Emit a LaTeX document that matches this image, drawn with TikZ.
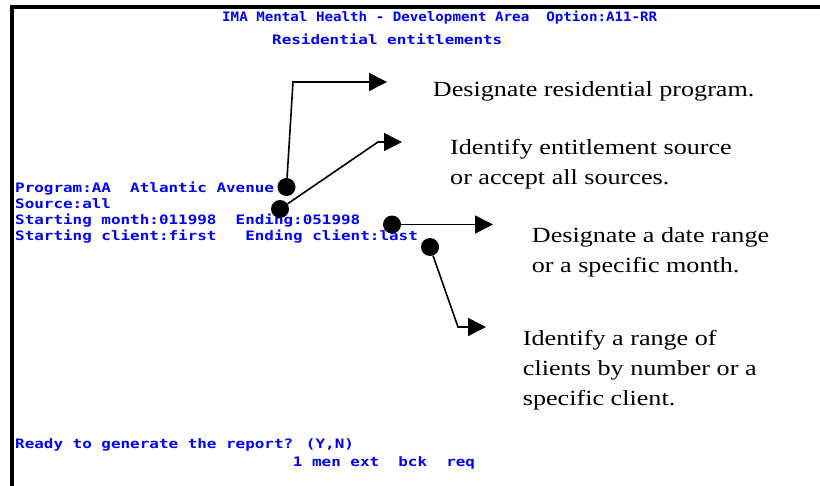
\documentclass[tikz,border=0pt]{standalone}
\usepackage{fontspec}
\usetikzlibrary{arrows.meta}
\newfontfamily\notefont[FakeStretch=1.21]{Liberation Serif}
\newfontfamily\termfont[FakeStretch=1.225]{DejaVu Sans Mono}
\newfontfamily\titlefont[FakeStretch=1.09]{DejaVu Sans Mono}
\begin{document}
\begin{tikzpicture}[x=1bp,y=-1bp,
  term/.style={anchor=base west, inner sep=0, text=blue, font=\termfont\bfseries\fontsize{13bp}{15bp}\selectfont},
  ttl/.style={anchor=base west, inner sep=0, text=blue, font=\titlefont\bfseries\fontsize{13bp}{15bp}\selectfont},
  note/.style={anchor=base west, inner sep=0, align=left, font=\notefont\fontsize{21.6bp}{30bp}\selectfont},
  dot/.style={circle, fill=black, inner sep=0, minimum size=18bp},
  conn/.style={line width=1.6bp, -{Triangle[length=18bp,width=18bp]}},
  frame/.style={line width=4bp}]
\useasboundingbox (0,0) rectangle (820,486);
% frame
\draw[frame] (10,7) -- (820,7);
\draw[frame] (12,5) -- (12,486);
% screen text
\node[ttl] (title) at (222,21.5) {IMA Mental Health - Development Area~~Option:A11-RR};
\node[term] (sub) at (272,44.5) {Residential entitlements};
\node[term] (prog) at (15,193) {Program:AA~~Atlantic Avenue};
\node[term] (src) at (15,208.7) {Source:all};
\node[term] (month) at (15,224.4) {Starting month:011998~~Ending:051998};
\node[term] (client) at (15,240.5) {Starting client:first~~~Ending client:last};
\node[term] (ready) at (15,448) {Ready to generate the report? (Y,N)};
\node[term] (keys) at (292.7,466) {1 men ext~~bck~~req};
% notes (base anchor = baseline of the last line)
\node[note] (t1) at (432.7,96.7) {Designate residential program.};
\node[note] (t2) at (450,185) {Identify entitlement source\\or accept all sources.};
\node[note] (t3) at (531.7,273) {Designate a date range\\or a specific month.};
\node[note] (t4) at (522.7,405) {Identify a range of\\clients by number or a\\specific client.};
% dots
\node[dot] (d1) at (286.5,187) {};
\node[dot] (d2) at (280,209) {};
\node[dot] (d3) at (392,224.5) {};
\node[dot] (d4) at (430,247) {};
% connectors
\coordinate (b1) at (293,82);
\coordinate (e1) at (387,82);
\coordinate (b2) at (378,142);
\coordinate (e2) at (402,142);
\coordinate (e3) at (493,224.5);
\coordinate (b4) at (458,327);
\coordinate (e4) at (486,327);
\draw[conn] (d1) -- (b1) -- (e1);
\draw[conn] (d2) -- (b2) -- (e2);
\draw[conn] (d3) -- (e3);
\draw[conn] (d4) -- (b4) -- (e4);
\end{tikzpicture}
\end{document}
